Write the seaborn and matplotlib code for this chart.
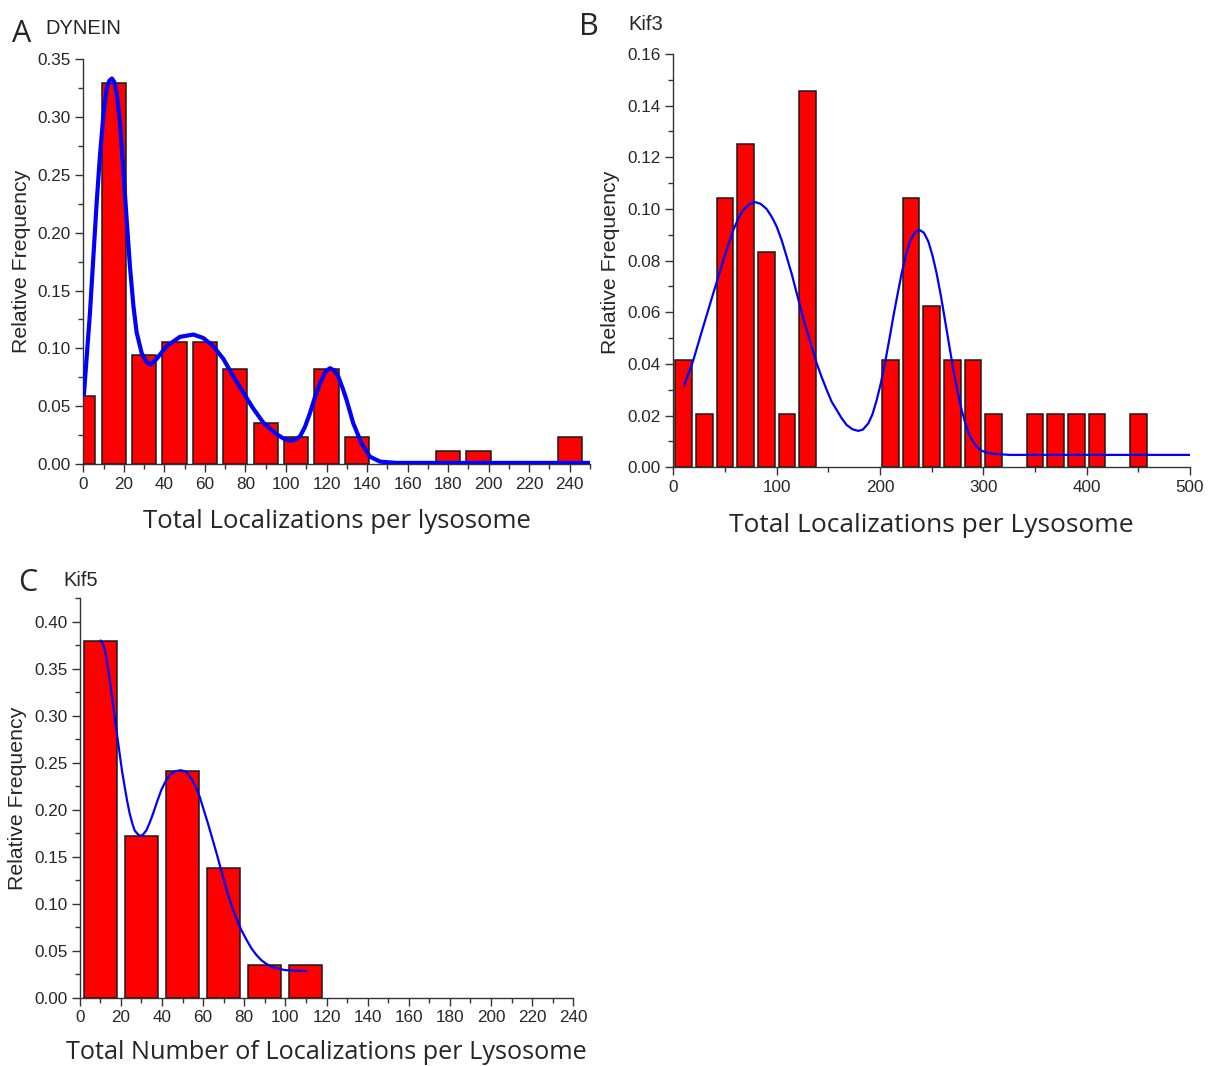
import numpy as np
import pandas as pd
import matplotlib
matplotlib.use("Agg")
import matplotlib.pyplot as plt
from matplotlib.ticker import MultipleLocator, FormatStrFormatter
import seaborn as sns

# ---------------- data ----------------
# Panel A: DYNEIN
a_bins = [0, 15, 30, 45, 60, 75, 90, 105, 120, 135, 180, 195, 240]
a_freq = [0.0588, 0.3294, 0.0941, 0.1059, 0.1059, 0.0824, 0.0353, 0.0235,
          0.0824, 0.0235, 0.0118, 0.0118, 0.0235]
a_fit_x = [0.3, 1.6, 3.3, 4.9, 6.6, 8.2, 9.9, 11.5, 12.8, 14.1, 15.3, 16.4, 18.1,
           19.7, 21.4, 23.0, 24.7, 26.3, 28.8, 31.3, 33.2, 36.2, 41.1, 47.7,
           54.3, 59.2, 64.1, 69.1, 74.0, 78.9, 83.9, 88.8, 92.0, 95.4, 99.0, 102.0,
           104.5, 106.9, 109.3, 111.8, 114.3, 116.8, 119.5, 121.7, 123.8, 125.8,
           127.9, 129.9, 133.2, 137.3, 141.4, 146.4, 154.6, 165.0, 250.0]
a_fit_y = [0.060, 0.091, 0.131, 0.177, 0.226, 0.266, 0.301, 0.324, 0.331, 0.333,
           0.330, 0.321, 0.295, 0.255, 0.211, 0.171, 0.137, 0.114, 0.096, 0.088,
           0.086, 0.091, 0.102, 0.110, 0.112, 0.109, 0.102, 0.091, 0.076, 0.062,
           0.048, 0.036, 0.031, 0.026, 0.022, 0.0204, 0.0212, 0.024, 0.032, 0.044,
           0.058, 0.070, 0.080, 0.083, 0.081, 0.0757, 0.066, 0.0555, 0.0354, 0.018,
           0.0066, 0.0023, 0.0012, 0.0012, 0.0012]

# Panel B: Kif3
b_bins = [10, 30, 50, 70, 90, 110, 130, 210, 230, 250, 270, 290, 310,
          350, 370, 390, 410, 450]
b_freq = [0.0417, 0.0208, 0.1042, 0.1250, 0.0833, 0.0208, 0.1458, 0.0417,
          0.1042, 0.0625, 0.0417, 0.0417, 0.0208, 0.0208, 0.0208, 0.0208,
          0.0208, 0.0208]
b_fit_x = [10.3, 19.4, 29.0, 38.7, 48.4, 53.3, 58.1, 62.9, 67.7, 73.5, 79.0, 84.5,
           90.3, 95.2, 100.0, 104.8, 109.7, 114.5, 119.4, 124.2, 129.0, 133.9,
           138.7, 143.5, 148.4, 153.2, 158.1, 162.9, 167.7, 173.5, 179.0, 183.5,
           188.7, 192.7, 196.8, 200.8, 204.8, 208.9, 212.9, 217.0, 221.0, 225.0,
           229.0, 233.8, 238.1, 242.5, 246.8, 250.8, 254.8, 258.9, 262.9, 267.0,
           271.0, 275.0, 279.0, 283.0, 287.1, 291.9, 296.8, 303.0, 309.7, 325.8,
           500.0]
b_fit_y = [0.0315, 0.0415, 0.0545, 0.0674, 0.0800, 0.0862, 0.0919, 0.0963, 0.0996,
           0.1018, 0.1027, 0.1020, 0.1000, 0.0970, 0.0932, 0.0880, 0.0815, 0.0750,
           0.0674, 0.0600, 0.0532, 0.0467, 0.0403, 0.0350, 0.0300, 0.0254, 0.0222,
           0.0190, 0.0164, 0.0147, 0.0141, 0.0146, 0.0170, 0.0205, 0.0260, 0.0325,
           0.0403, 0.0492, 0.0583, 0.0670, 0.0751, 0.0820, 0.0874, 0.0910, 0.0919,
           0.0908, 0.0874, 0.0820, 0.0751, 0.0665, 0.0570, 0.0472, 0.0377, 0.0295,
           0.0222, 0.0165, 0.0119, 0.0088, 0.0067, 0.0057, 0.0052, 0.0048, 0.0048]

# Panel C: Kif5
c_bins = [10, 30, 50, 70, 90, 110]
c_freq = [0.3793, 0.1724, 0.2414, 0.1379, 0.0345, 0.0345]
c_fit_x = [10.2, 11.2, 12.2, 13.4, 14.6, 15.8, 17.0, 18.2, 19.4, 20.6, 21.9, 23.1,
           24.3, 25.5, 26.7, 28.2, 29.7, 31.0, 32.4, 34.0, 35.7, 37.7, 39.7, 41.7,
           43.8, 46.6, 49.4, 52.0, 54.3, 56.3, 58.3, 60.3, 62.4, 64.4, 66.5, 68.5,
           70.5, 72.5, 74.6, 76.6, 78.6, 81.0, 83.5, 85.9, 88.3, 90.7, 93.2, 96.4,
           99.7, 104.9, 110.2]
c_fit_y = [0.380, 0.377, 0.370, 0.356, 0.338, 0.319, 0.299, 0.279, 0.260, 0.241,
           0.224, 0.209, 0.196, 0.186, 0.178, 0.174, 0.172, 0.174, 0.178, 0.186,
           0.196, 0.209, 0.221, 0.230, 0.237, 0.241, 0.242, 0.240, 0.233, 0.225,
           0.214, 0.200, 0.185, 0.170, 0.154, 0.138, 0.122, 0.107, 0.0933, 0.082,
           0.072, 0.062, 0.0525, 0.0455, 0.040, 0.036, 0.033, 0.031, 0.0294, 0.0288,
           0.0284]

panel_letters = ["A", "B", "C"]
panel_titles = ["DYNEIN", "Kif3", "Kif5"]
y_label = "Relative Frequency"
x_labels = ["Total Localizations per lysosome",
            "Total Localizations per Lysosome",
            "Total Number of Localizations per Lysosome"]

# ---------------- style ----------------
sns.set_style("ticks")
plt.rcParams["font.family"] = ["Liberation Sans", "DejaVu Sans"]
plt.rcParams["axes.linewidth"] = 1.0
plt.rcParams["axes.edgecolor"] = "#333333"

W, H = 1211, 1066
fig = plt.figure(figsize=(W / 100, H / 100), dpi=100)


def px_axes(left, right, top, bottom):
    return fig.add_axes([left / W, 1 - bottom / H, (right - left) / W, (bottom - top) / H])


axA = px_axes(83.3, 590.0, 58.8, 464.3)
axB = px_axes(673.3, 1190.0, 54.0, 467.3)
axC = px_axes(79.7, 573.3, 598.2, 997.7)

specs = [
    (axA, a_bins, a_freq, a_fit_x, a_fit_y, 3.0, (0, 250), (0, 0.35), 20, 10, 0.05, 0.025, 18.5),
    (axB, b_bins, b_freq, b_fit_x, b_fit_y, 1.6, (0, 500), (0, 0.16), 100, 50, 0.02, 0.01, 19.0),
    (axC, c_bins, c_freq, c_fit_x, c_fit_y, 1.6, (0, 240), (0, 0.425), 20, 10, 0.05, 0.025, 18.2),
]

for i, (ax, bx, by, fx, fy, lw, xl, yl, xmaj, xmin, ymaj, ymin, xfs) in enumerate(specs):
    df = pd.DataFrame({"x": bx, "y": by})
    sns.barplot(data=df, x="x", y="y", native_scale=True, width=0.8,
                color="#ff0000", saturation=1, edgecolor="#1a1a1a",
                linewidth=1.1, errorbar=None, ax=ax, zorder=2)
    fdf = pd.DataFrame({"x": fx, "y": fy})
    sns.lineplot(data=fdf, x="x", y="y", color="#0000ff", linewidth=lw,
                 ax=ax, zorder=3, sort=True)
    ax.set_xlim(*xl)
    ax.set_ylim(*yl)
    ax.xaxis.set_major_locator(MultipleLocator(xmaj))
    ax.xaxis.set_minor_locator(MultipleLocator(xmin))
    ax.yaxis.set_major_locator(MultipleLocator(ymaj))
    ax.yaxis.set_minor_locator(MultipleLocator(ymin))
    ax.yaxis.set_major_formatter(FormatStrFormatter("%.2f"))
    if i == 2:
        ax.set_yticks([t for t in np.arange(0, 0.401, 0.05)])
    ax.tick_params(axis="both", which="major", direction="out", length=6,
                   width=1.0, labelsize=12.3, color="#333333", pad=3)
    ax.tick_params(axis="both", which="minor", direction="out", length=3.5,
                   width=1.0, color="#333333")
    sns.despine(ax=ax)
    ax.set_ylabel(y_label, fontsize=15.3, va="center")
    ax.set_xlabel(x_labels[i], fontsize=xfs, va="center",
                  family=["Open Sans", "DejaVu Sans"])
    ax.set_facecolor("white")

axA.yaxis.set_label_coords(-0.122, 0.5)
axA.xaxis.set_label_coords(0.50, -0.14)
axB.yaxis.set_label_coords(-0.1225, 0.497)
axB.xaxis.set_label_coords(0.50, -0.14)
axC.yaxis.set_label_coords(-0.127, 0.50)
axC.xaxis.set_label_coords(0.50, -0.138)

# panel letters and titles
letter_pos = [(22, 34), (589, 27), (28, 583)]
title_pos = [(45, 28), (628, 25), (63, 581)]
for (lx, ly), (tx, ty), letter, title in zip(letter_pos, title_pos, panel_letters, panel_titles):
    fig.text(lx / W, 1 - ly / H, letter, fontsize=22, ha="center", va="center",
             family=["Open Sans", "DejaVu Sans"])
    fig.text(tx / W, 1 - ty / H, title, fontsize=14.5, ha="left", va="center")

fig.savefig("out.png", dpi=100, facecolor="white")
